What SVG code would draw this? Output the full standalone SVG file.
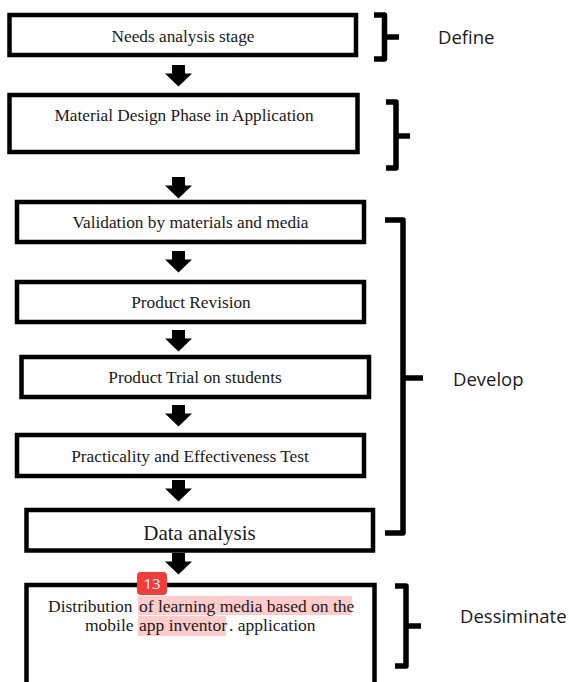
<svg xmlns="http://www.w3.org/2000/svg" width="569" height="682" viewBox="0 0 569 682">
<style>
.box{fill:#fff;stroke:#000;stroke-width:4.5}
.t{font-family:"Liberation Serif","Times New Roman",serif;font-size:17.3px;fill:#1a1a1a;text-anchor:middle}
.tl{font-family:"Liberation Serif","Times New Roman",serif;font-size:17.5px;fill:#1a1a1a}
.br{fill:none;stroke:#000;stroke-width:5.5;stroke-linejoin:round;stroke-linecap:butt}
.lab{font-family:"Open Sans","Liberation Sans",sans-serif;font-size:18.5px;fill:#1a1a1a}
.hl{fill:#ff0000;fill-opacity:0.2}
</style>
<defs>
<path id="arr" d="M-6.5,0 H6.5 V8.5 H13.5 L0,21.5 L-13.5,8.5 H-6.5 Z" fill="#000"/>
</defs>
<rect width="569" height="682" fill="#fff"/>
<g id="connectors">
<use href="#arr" x="178.5" y="65"/>
<use href="#arr" x="178.5" y="177"/>
<use href="#arr" x="178.5" y="251"/>
<use href="#arr" x="178.5" y="330"/>
<use href="#arr" x="178.5" y="405"/>
<use href="#arr" x="178.5" y="480"/>
<use href="#arr" x="178.5" y="553"/>
</g>
<g id="n1">
<rect class="box" x="9.5" y="15" width="346.5" height="40"/>
<text class="t" x="183" y="42">Needs analysis stage</text>
</g>
<g id="n2">
<rect class="box" x="9.5" y="95" width="348" height="57"/>
<text class="t" x="184" y="121">Material Design Phase in Application</text>
</g>
<g id="n3">
<rect class="box" x="17" y="202" width="347" height="40"/>
<text class="t" x="190.5" y="228">Validation by materials and media</text>
</g>
<g id="n4">
<rect class="box" x="17" y="282" width="347" height="40"/>
<text class="t" x="191" y="307.5">Product Revision</text>
</g>
<g id="n5">
<rect class="box" x="21.5" y="357" width="347.5" height="40"/>
<text class="t" x="195" y="383">Product Trial on students</text>
</g>
<g id="n6">
<rect class="box" x="17" y="435" width="347" height="41"/>
<text class="t" x="190" y="461.5">Practicality and Effectiveness Test</text>
</g>
<g id="n7">
<rect class="box" x="26.5" y="510" width="346.5" height="40.5"/>
<text class="t" x="199.5" y="540" style="font-size:21px">Data analysis</text>
</g>
<g id="n8">
<rect class="box" x="26.5" y="585" width="348" height="120"/>
<rect class="hl" x="138" y="596" width="214" height="19"/>
<rect class="hl" x="138" y="616" width="88" height="20"/>
<text class="tl" x="48" y="612">Distribution</text>
<text class="tl" x="139" y="612" fill="#5a2020">of learning media based on the</text>
<text class="tl" x="85" y="631">mobile</text>
<text class="tl" x="139" y="631">app inventor</text>
<text class="tl" x="229" y="631">. application</text>
<rect x="137" y="572" width="30" height="23" rx="4" fill="#f23b3b"/>
<text x="152" y="589" font-family="Open Sans, Liberation Sans, sans-serif" font-size="15" fill="#fff" text-anchor="middle">13</text>
</g>
<g id="define">
<path class="br" d="M374,15 H384.5 V59 H374 M384.5,37 H399"/>
<text class="lab" x="438" y="44">Define</text>
</g>
<g id="design">
<path class="br" d="M386,102 H396 V168 H386 M396,136 H410"/>
</g>
<g id="develop">
<path class="br" d="M385,220 H403 V533 H385 M403,378 H423"/>
<text class="lab" x="453" y="386">Develop</text>
</g>
<g id="disseminate">
<path class="br" d="M395,586 H406 V666 H395 M406,626 H421"/>
<text class="lab" x="460" y="623">Dessiminate</text>
</g>
</svg>
